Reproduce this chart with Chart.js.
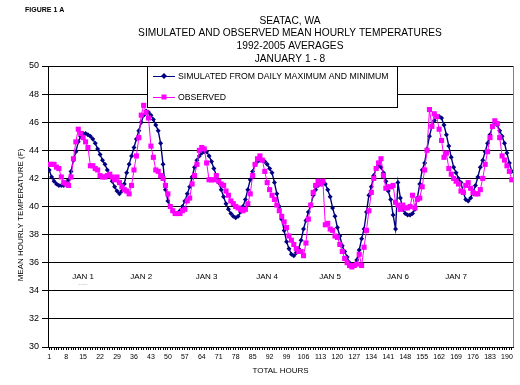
<!DOCTYPE html>
<html>
<head>
<meta charset="utf-8">
<script src="https://cdn.jsdelivr.net/npm/chart.js@4"></script>
<style>
  html, body { margin: 0; padding: 0; background: #fff; }
  #wrap { width: 520px; height: 385px; }
</style>
</head>
<body>
<div id="wrap"><canvas id="grafico" width="520" height="385"></canvas></div>
<script>
// horas (categorias) e rotulos do eixo x
const hours = Array.from({ length: 192 }, (_, i) => i + 1);
const xTickLabels = [1, 8, 15, 22, 29, 36, 43, 50, 57, 64, 71, 78, 85, 92, 99, 106, 113, 120, 127, 134, 141, 148, 155, 162, 169, 176, 183, 190];

// temperaturas simuladas (F)
const simulated = [
  42.6, 42.1, 41.8, 41.6, 41.5, 41.5, 41.5, 41.7, 41.9, 42.5, 43.3, 43.9,
  44.6, 45.0, 45.2, 45.2, 45.1, 45.0, 44.8, 44.5, 44.1, 43.7, 43.3, 43.0,
  42.6, 42.2, 41.8, 41.4, 41.1, 40.9, 41.1, 41.6, 42.4, 43.0, 43.6, 44.2,
  44.8, 45.4, 46.0, 46.5, 46.8, 46.7, 46.5, 46.2, 45.8, 45.4, 44.5, 43.0,
  41.2, 40.4, 40.0, 39.7, 39.5, 39.5, 39.7, 40.0, 40.4, 40.9, 41.4, 42.1,
  42.8, 43.3, 43.6, 43.8, 43.9, 43.9, 43.6, 43.2, 42.7, 42.2, 41.7, 41.2,
  40.7, 40.2, 39.8, 39.5, 39.3, 39.2, 39.3, 39.6, 40.0, 40.5, 41.2, 41.9,
  42.5, 43.0, 43.2, 43.3, 43.3, 43.2, 43.0, 42.7, 42.4, 41.7, 40.9, 40.0,
  39.1, 38.3, 37.5, 37.0, 36.6, 36.5, 36.7, 37.0, 37.6, 38.4, 39.0, 39.6,
  40.1, 40.8, 41.2, 41.5, 41.7, 41.7, 41.6, 41.2, 40.7, 39.9, 39.3, 38.5,
  37.9, 37.2, 36.8, 36.4, 36.0, 35.8, 35.8, 36.2, 36.9, 37.7, 38.4, 39.6,
  40.8, 41.4, 42.2, 42.7, 42.9, 42.8, 42.4, 41.8, 41.1, 40.5, 39.4, 38.4,
  41.7, 40.6, 39.8, 39.5, 39.4, 39.4, 39.5, 39.8, 40.6, 41.6, 42.6, 43.1,
  44.1, 45.0, 45.7, 46.1, 46.4, 46.4, 46.3, 45.8, 45.1, 44.3, 43.5, 42.8,
  42.4, 42.0, 41.7, 41.0, 40.5, 40.4, 40.6, 41.0, 41.5, 42.1, 42.8, 43.3,
  43.9, 44.5, 45.1, 45.7, 45.9, 45.8, 45.4, 45.0, 44.5, 43.8, 43.1, 42.5
];

// temperaturas observadas (F)
const observed = [
  43.0, 43.0, 43.0, 42.8, 42.7, 42.1, 41.7, 41.6, 41.5, 42.1, 43.4, 44.6,
  45.5, 45.2, 44.9, 44.6, 44.2, 42.9, 42.9, 42.7, 42.6, 42.2, 42.1, 42.1,
  42.2, 42.3, 42.1, 41.9, 42.1, 41.7, 41.4, 41.2, 41.1, 40.9, 41.5, 42.6,
  43.6, 44.9, 46.5, 47.2, 46.7, 46.3, 44.3, 43.5, 42.6, 42.5, 42.2, 42.0,
  41.5, 40.9, 40.0, 39.7, 39.5, 39.5, 39.5, 39.7, 39.8, 40.4, 40.6, 41.6,
  42.2, 43.0, 44.0, 44.2, 44.1, 43.1, 41.9, 41.9, 41.9, 42.2, 41.8, 41.6,
  41.5, 41.1, 40.8, 40.4, 40.2, 40.0, 39.9, 39.8, 39.7, 39.8, 40.2, 40.9,
  42.2, 43.0, 43.4, 43.6, 43.3, 42.5, 41.7, 41.2, 40.8, 40.5, 40.1, 39.7,
  39.3, 38.9, 38.5, 37.9, 37.6, 37.3, 37.0, 36.8, 36.8, 36.5, 37.4, 39.1,
  40.1, 41.0, 41.5, 41.8, 41.6, 41.8, 38.7, 38.8, 38.4, 38.3, 37.9, 37.8,
  37.3, 36.8, 36.3, 36.0, 35.8, 35.7, 35.8, 35.9, 36.6, 35.8, 37.1, 38.3,
  39.7, 41.0, 42.0, 42.7, 43.1, 43.4, 42.2, 41.3, 41.4, 41.4, 41.5, 40.3,
  40.1, 39.8, 40.1, 39.9, 39.9, 40.0, 40.8, 39.9, 40.5, 40.6, 41.4, 42.6,
  44.0, 46.9, 45.7, 46.6, 46.4, 45.5, 44.7, 43.5, 43.8, 42.7, 42.3, 42.0,
  41.8, 41.6, 41.1, 41.0, 41.5, 41.7, 41.3, 41.0, 40.9, 40.9, 41.2, 42.0,
  43.0, 43.9, 44.9, 45.7, 46.1, 45.9, 44.9, 43.6, 43.3, 42.9, 42.5, 41.9
];

// textos
const titleLines = ['SEATAC, WA', 'SIMULATED AND OBSERVED MEAN HOURLY TEMPERATURES', '1992-2005 AVERAGES', 'JANUARY 1 - 8'];
const seriesNames = ['SIMULATED FROM DAILY MAXIMUM AND MINIMUM', 'OBSERVED'];
const dayLabels = ['JAN 1', 'JAN 2', 'JAN 3', 'JAN 4', 'JAN 5', 'JAN 6', 'JAN 7'];
const dayLabelHours = [15, 39, 66, 91, 117, 145, 169];

const FONT = "'Liberation Sans', Arial, sans-serif";
const NAVY = '#000080';
const MAGENTA = '#ff00ff';

// textos extras, legenda e borda
const overlay = {
    id: 'overlay',
    beforeDraw(chart) {
        const ctx = chart.ctx;
        ctx.save();
        ctx.fillStyle = '#fff';
        ctx.fillRect(0, 0, chart.width, chart.height);
        ctx.restore();
    },
    afterDatasetsDraw(chart) {
        const ctx = chart.ctx;
        const area = chart.chartArea;
        const xs = chart.scales.x;
        ctx.save();

        // borda direita cinza
        ctx.strokeStyle = '#808080';
        ctx.lineWidth = 1;
        ctx.beginPath();
        ctx.moveTo(area.right + 0.5, area.top);
        ctx.lineTo(area.right + 0.5, area.bottom);
        ctx.stroke();

        // titulo
        ctx.fillStyle = '#000';
        ctx.textAlign = 'center';
        ctx.textBaseline = 'middle';
        ctx.font = '10.2px ' + FONT;
        const titleY = [21, 33, 46, 59];
        titleLines.forEach((t, i) => ctx.fillText(t, 290, titleY[i]));

        ctx.textAlign = 'left';
        ctx.font = 'bold 7px ' + FONT;
        ctx.fillText('FIGURE 1 A', 25, 10);

        // titulo eixo y
        ctx.save();
        ctx.translate(21, 215);
        ctx.rotate(-Math.PI / 2);
        ctx.textAlign = 'center';
        ctx.font = '8px ' + FONT;
        ctx.fillText('MEAN HOURLY TEMPERATURE (F)', 0, 0);
        ctx.restore();

        // dias
        ctx.textAlign = 'center';
        ctx.font = '8px ' + FONT;
        dayLabels.forEach((d, i) => ctx.fillText(d, xs.getPixelForValue(dayLabelHours[i]), 277));
        ctx.fillStyle = '#999';
        ctx.font = '7px ' + FONT;
        ctx.fillText('.....', xs.getPixelForValue(dayLabelHours[0]), 283);

        // legenda
        ctx.fillStyle = '#fff';
        ctx.fillRect(147, 66, 250, 42);
        ctx.strokeStyle = '#000';
        ctx.strokeRect(147.5, 66.5, 250, 41);

        const rows = [
            { y: 76, color: NAVY, diamond: true },
            { y: 97, color: MAGENTA, diamond: false }
        ];
        rows.forEach((r, i) => {
            ctx.strokeStyle = r.color;
            ctx.fillStyle = r.color;
            ctx.lineWidth = 1;
            ctx.beginPath();
            ctx.moveTo(153, r.y + 0.5);
            ctx.lineTo(175, r.y + 0.5);
            ctx.stroke();
            ctx.beginPath();
            if (r.diamond) {
                ctx.moveTo(164, r.y - 3);
                ctx.lineTo(167, r.y);
                ctx.lineTo(164, r.y + 3);
                ctx.lineTo(161, r.y);
                ctx.closePath();
                ctx.fill();
            } else {
                ctx.fillRect(161.5, r.y - 2.5, 5, 5);
            }
            ctx.fillStyle = '#000';
            ctx.textAlign = 'left';
            ctx.font = '8.7px ' + FONT;
            ctx.fillText(seriesNames[i], 178, r.y + 0.5);
        });

        ctx.restore();
    }
};

const ctx = document.getElementById('grafico').getContext('2d');
new Chart(ctx, {
    type: 'line',
    data: {
        datasets: [
            {
                label: seriesNames[1],
                data: hours.map((h, i) => ({ x: h, y: observed[i] })),
                borderColor: MAGENTA,
                backgroundColor: MAGENTA,
                pointBackgroundColor: MAGENTA,
                pointBorderColor: MAGENTA,
                borderWidth: 1,
                pointStyle: 'rect',
                pointRadius: 3.6,
                pointBorderWidth: 0,
                tension: 0,
                order: 0
            },
            {
                label: seriesNames[0],
                data: hours.map((h, i) => ({ x: h, y: simulated[i] })),
                borderColor: NAVY,
                backgroundColor: NAVY,
                pointBackgroundColor: NAVY,
                pointBorderColor: NAVY,
                borderWidth: 1.4,
                pointStyle: 'rectRot',
                pointRadius: 2.5,
                pointBorderWidth: 0,
                tension: 0,
                order: 1
            }
        ]
    },
    options: {
        responsive: false,
        animation: false,
        devicePixelRatio: 1,
        layout: { padding: { left: 0, top: 66, right: 7, bottom: 0 } },
        plugins: {
            legend: { display: false },
            title: { display: false },
            tooltip: { enabled: false }
        },
        scales: {
            x: {
                type: 'linear',
                min: 0.5,
                max: 192.5,
                afterFit: (s) => { s.height = 38; },
                afterBuildTicks: (s) => { s.ticks = hours.map(v => ({ value: v })); },
                ticks: {
                    autoSkip: false,
                    maxRotation: 0,
                    minRotation: 0,
                    padding: 3,
                    color: '#000',
                    font: { size: 7, family: FONT },
                    callback: (v) => xTickLabels.includes(v) ? String(v) : ''
                },
                grid: { drawOnChartArea: false, drawTicks: true, tickLength: 3, color: '#000', lineWidth: 1 },
                border: { color: '#000', width: 1 },
                title: {
                    display: true,
                    text: 'TOTAL HOURS',
                    color: '#000',
                    font: { size: 8, family: FONT },
                    padding: { top: 0, bottom: 9 }
                }
            },
            y: {
                min: 30,
                max: 50,
                afterFit: (s) => { s.width = 48; },
                ticks: { stepSize: 2, color: '#000', padding: 3, font: { size: 9, family: FONT } },
                grid: { color: '#000', lineWidth: 1, tickLength: 6 },
                border: { color: '#000', width: 1 }
            }
        }
    },
    plugins: [overlay]
});
</script>
</body>
</html>
